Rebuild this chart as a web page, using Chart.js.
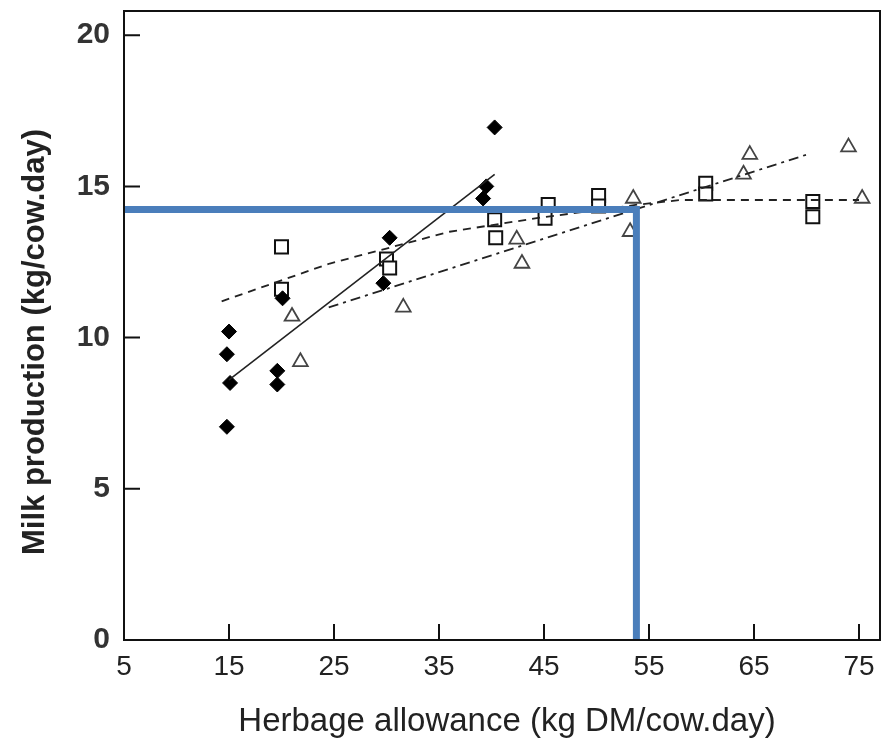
<!DOCTYPE html>
<html>
<head>
<meta charset="utf-8">
<title>Milk production vs herbage allowance</title>
<script src="https://cdn.jsdelivr.net/npm/chart.js@4.4.1/dist/chart.umd.min.js"></script>
<style>
  html, body { margin: 0; padding: 0; background: #fff; }
  #grafico { display: block; }
</style>
</head>
<body>
<canvas id="grafico" width="886" height="745"></canvas>
<script>
// Eixos
const xTicks = [5, 15, 25, 35, 45, 55, 65, 75];
const yTicks = [0, 5, 10, 15, 20];
const xTitle = 'Herbage allowance (kg DM/cow.day)';
const yTitle = 'Milk production (kg/cow.day)';

// Losangos cheios
const diamondX = [15, 14.8, 15.1, 14.8, 19.6, 19.6, 20.1, 29.7, 30.3, 39.5, 39.2, 40.3];
const diamondY = [10.2, 9.45, 8.5, 7.05, 8.9, 8.45, 11.3, 11.8, 13.3, 15.0, 14.6, 16.95];

// Quadrados abertos
const squareX = [20, 20, 30, 30.3, 40.3, 40.4, 45.4, 45.1, 50.2, 50.2, 60.4, 60.4, 70.6, 70.6];
const squareY = [13.0, 11.6, 12.6, 12.3, 13.9, 13.3, 14.4, 13.95, 14.7, 14.35, 15.1, 14.75, 14.5, 14.0];

// Triângulos abertos
const triangleX = [21.0, 21.8, 31.6, 42.4, 42.9, 53.5, 53.2, 64.6, 64.0, 74.0, 75.3];
const triangleY = [10.7, 9.2, 11.0, 13.25, 12.45, 14.6, 13.5, 16.05, 15.4, 16.3, 14.6];

// Curvas ajustadas
const diamondFitX = [15, 40.3];
const diamondFitY = [8.6, 15.4];
const squareFitX = [14.3, 24.6, 36, 44.3, 54, 58, 75];
const squareFitY = [11.2, 12.45, 13.5, 13.95, 14.4, 14.55, 14.55];
const triangleFitX = [24.5, 70.1];
const triangleFitY = [11.0, 16.06];

// Linha de referência azul
const refX = [5, 53.8, 53.8];
const refY = [14.24, 14.24, 0];

class MilkChart {
    constructor() {
        this.ctx = document.getElementById('grafico');
        this.build();
    }

    points(xs, ys) {
        return xs.map((x, i) => ({ x: x, y: ys[i] }));
    }

    datasets() {
        return [{
            data: this.points(refX, refY),
            showLine: true,
            borderColor: '#4a7ebb',
            borderWidth: 7,
            pointRadius: 0
        }, {
            data: this.points(diamondFitX, diamondFitY),
            showLine: true,
            borderColor: '#222',
            borderWidth: 1.6,
            pointRadius: 0
        }, {
            data: this.points(squareFitX, squareFitY),
            showLine: true,
            borderColor: '#222',
            borderWidth: 1.8,
            borderDash: [8, 6],
            pointRadius: 0
        }, {
            data: this.points(triangleFitX, triangleFitY),
            showLine: true,
            borderColor: '#222',
            borderWidth: 1.8,
            borderDash: [10, 5, 3, 5],
            pointRadius: 0
        }, {
            data: this.points(diamondX, diamondY),
            pointStyle: 'rectRot',
            pointRadius: 7.5,
            backgroundColor: '#000',
            borderColor: '#000',
            borderWidth: 1
        }, {
            data: this.points(squareX, squareY),
            pointStyle: 'rect',
            pointRadius: 9.2,
            backgroundColor: '#fff',
            borderColor: '#111',
            borderWidth: 2
        }, {
            data: this.points(triangleX, triangleY),
            pointStyle: 'triangle',
            pointRadius: 8.5,
            backgroundColor: '#fff',
            borderColor: '#444',
            borderWidth: 1.8
        }];
    }

    build() {
        // moldura e marcas de escala para dentro
        const frameTicks = {
            id: 'frameTicks',
            afterDatasetsDraw(chart) {
                const { ctx, chartArea: a, scales } = chart;
                ctx.save();
                ctx.strokeStyle = '#111';
                ctx.lineWidth = 2;
                ctx.strokeRect(a.left, a.top, a.right - a.left, a.bottom - a.top);
                ctx.beginPath();
                xTicks.forEach(v => {
                    const px = scales.x.getPixelForValue(v);
                    ctx.moveTo(px, a.bottom);
                    ctx.lineTo(px, a.bottom - 16);
                });
                yTicks.forEach(v => {
                    const py = scales.y.getPixelForValue(v);
                    ctx.moveTo(a.left, py);
                    ctx.lineTo(a.left + 16, py);
                });
                ctx.stroke();
                ctx.restore();
            }
        };

        const axisTitles = {
            id: 'axisTitles',
            afterDraw(chart) {
                const ctx = chart.ctx;
                ctx.save();
                ctx.fillStyle = '#222';
                ctx.textAlign = 'center';
                ctx.textBaseline = 'middle';
                ctx.font = '33px "Liberation Sans", Arial, sans-serif';
                ctx.fillText(xTitle, 507, 722);
                ctx.translate(35, 342);
                ctx.rotate(-Math.PI / 2);
                ctx.font = 'bold 31px "Liberation Sans", Arial, sans-serif';
                ctx.fillText(yTitle, 0, 0);
                ctx.restore();
            }
        };

        new Chart(this.ctx, {
            type: 'scatter',
            data: { datasets: this.datasets() },
            options: {
                responsive: false,
                animation: false,
                layout: {
                    autoPadding: false,
                    padding: { top: 11, right: 6, left: 0, bottom: 0 }
                },
                plugins: {
                    legend: { display: false },
                    tooltip: { enabled: false }
                },
                scales: {
                    x: {
                        type: 'linear',
                        min: 5,
                        max: 77,
                        afterBuildTicks: s => { s.ticks = xTicks.map(v => ({ value: v })); },
                        afterFit: s => {
                            s.height = 105;
                            s.paddingLeft = 0;
                            s.paddingRight = 0;
                        },
                        grid: { display: false, drawTicks: false },
                        border: { display: false },
                        ticks: {
                            color: '#222',
                            padding: 10,
                            font: { family: '"Liberation Sans", Arial, sans-serif', size: 28 }
                        }
                    },
                    y: {
                        min: 0,
                        max: 20.8,
                        afterBuildTicks: s => { s.ticks = yTicks.map(v => ({ value: v })); },
                        afterFit: s => {
                            s.width = 124;
                            s.paddingTop = 0;
                            s.paddingBottom = 0;
                        },
                        grid: { display: false, drawTicks: false },
                        border: { display: false },
                        ticks: {
                            color: '#333',
                            padding: 14,
                            font: { family: '"Liberation Sans", Arial, sans-serif', size: 30, weight: 'bold' }
                        }
                    }
                }
            },
            plugins: [frameTicks, axisTitles]
        });
    }
}

document.addEventListener('DOMContentLoaded', () => {
    new MilkChart();
});
</script>
</body>
</html>
